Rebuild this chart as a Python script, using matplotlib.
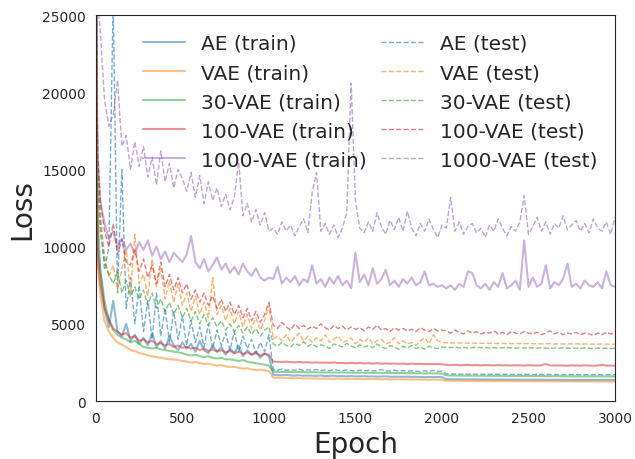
import numpy as np
import matplotlib
matplotlib.use("Agg")
import matplotlib.pyplot as plt
import seaborn as sns

epochs = [0, 5, 10] + list(range(25, 3001, 25))

labels = ["AE", "VAE", "30-VAE", "100-VAE", "1000-VAE"]
colors = ["C0", "C1", "C2", "C3", "C4"]

ae_train = [32000, 20000, 12000,
            8500, 6000, 4800, 6500, 4500, 4200, 5000, 3900, 4300, 3700,
            4100, 3600, 4400, 3500, 3900, 3400, 4200, 3600, 3300, 3800,
            3400, 3700, 3200, 3900, 3300, 3100, 3600, 3200, 3500, 3000,
            3400, 3100, 3600, 2900, 3300, 3000, 3200, 2800, 3100, 2900,
            1700, 1680, 1670, 1690, 1660, 1650, 1670, 1640, 1650, 1640,
            1630, 1650, 1620, 1630, 1640, 1610, 1620, 1600, 1620, 1600,
            1600, 1610, 1590, 1600, 1580, 1590, 1600, 1580, 1570, 1580,
            1570, 1580, 1560, 1570, 1560, 1550, 1560, 1550, 1560, 1550,
            1420, 1415, 1410, 1410, 1405, 1400, 1405, 1400, 1395, 1400,
            1395, 1390, 1395, 1390, 1390, 1385, 1390, 1385, 1385, 1380,
            1385, 1380, 1380, 1380, 1375, 1380, 1375, 1375, 1375, 1370,
            1375, 1370, 1370, 1370, 1370, 1365, 1370, 1365, 1365, 1365]

vae_train = [32000, 14000, 9000,
             7000, 5200, 4500, 4100, 3800, 3650, 3500, 3300, 3250, 3100,
             3050, 2950, 2900, 2850, 2800, 2750, 2700, 2700, 2650, 2600,
             2550, 2500, 2520, 2450, 2400, 2420, 2350, 2300, 2330, 2250,
             2200, 2220, 2150, 2100, 2120, 2050, 2000, 2030, 1980, 1950,
             1520, 1510, 1500, 1500, 1490, 1480, 1490, 1470, 1470, 1460,
             1460, 1450, 1460, 1450, 1440, 1450, 1440, 1430, 1440, 1430,
             1430, 1420, 1430, 1420, 1420, 1410, 1420, 1410, 1400, 1410,
             1400, 1400, 1390, 1400, 1390, 1390, 1380, 1390, 1380, 1380,
             1320, 1315, 1310, 1310, 1305, 1305, 1300, 1300, 1300, 1295,
             1295, 1295, 1290, 1290, 1290, 1290, 1285, 1285, 1285, 1285,
             1280, 1280, 1280, 1280, 1280, 1275, 1275, 1275, 1275, 1275,
             1270, 1270, 1270, 1270, 1270, 1265, 1265, 1265, 1265, 1265]

vae30_train = [32000, 16000, 10000,
               8500, 6500, 5200, 4600, 4300, 4100, 4000, 3800, 3900, 3700,
               3500, 3450, 3400, 3450, 3350, 3300, 3250, 3200, 3150, 3100,
               3000, 2950, 3000, 2900, 2850, 2900, 2800, 2750, 2800, 2700,
               2700, 2650, 2600, 2650, 2550, 2500, 2450, 2400, 2350, 2300,
               1900, 1890, 1890, 1880, 1880, 1870, 1880, 1870, 1860, 1870,
               1860, 1850, 1860, 1850, 1850, 1840, 1850, 1840, 1840, 1830,
               1840, 1830, 1830, 1820, 1830, 1820, 1820, 1810, 1820, 1810,
               1810, 1800, 1810, 1800, 1800, 1790, 1800, 1790, 1790, 1780,
               1660, 1655, 1650, 1650, 1645, 1645, 1640, 1640, 1640, 1635,
               1635, 1630, 1630, 1630, 1625, 1625, 1625, 1620, 1620, 1620,
               1615, 1615, 1615, 1610, 1610, 1610, 1610, 1605, 1605, 1605,
               1600, 1600, 1600, 1600, 1595, 1595, 1595, 1595, 1590, 1590]

vae100_train = [32000, 15000, 9500,
                7600, 6000, 5300, 4700, 4500, 4300, 4400, 4100, 4200, 3900,
                4000, 3800, 3900, 3700, 3750, 3600, 3700, 3500, 3600, 3450,
                3500, 3400, 3450, 3300, 3400, 3250, 3350, 3200, 3300, 3150,
                3250, 3100, 3200, 3050, 3150, 3000, 3100, 2950, 3050, 3000,
                2560, 2540, 2530, 2550, 2520, 2510, 2530, 2500, 2510, 2490,
                2500, 2480, 2490, 2470, 2500, 2460, 2470, 2450, 2470, 2450,
                2460, 2440, 2450, 2430, 2450, 2420, 2440, 2420, 2430, 2410,
                2420, 2400, 2420, 2400, 2410, 2390, 2400, 2390, 2400, 2380,
                2340, 2330, 2350, 2320, 2330, 2340, 2320, 2330, 2310, 2330,
                2320, 2310, 2330, 2310, 2320, 2300, 2320, 2310, 2300, 2320,
                2310, 2300, 2320, 2400, 2310, 2300, 2310, 2300, 2290, 2310,
                2300, 2290, 2310, 2300, 2290, 2300, 2350, 2290, 2300, 2280]

vae1000_train = [32000, 22000, 16000,
                 13000, 11500, 10500, 11000, 10000, 10500, 9800, 10200, 9500, 10300,
                 9800, 10400, 9400, 10000, 9200, 9700, 9000, 9600, 9300, 9000,
                 9500, 10700, 9000, 8600, 9200, 8400, 8800, 9300, 8500, 8900,
                 8300, 8700, 8200, 8900, 8400, 8100, 8600, 8000, 7800, 8000,
                 7900, 8700, 7600, 8000, 7700, 8100, 7500, 7900, 7700, 8800,
                 7600, 7900, 7400, 8000, 7600, 8100, 7500, 7800, 7300, 9600,
                 7700, 8200, 7500, 8600, 7600, 7900, 8500, 7500, 7800, 7400,
                 7900, 7600, 8000, 7500, 7700, 8400, 7500, 7600, 7400, 7500,
                 7300, 7500, 7200, 7600, 7400, 8400, 8300, 7500, 7300, 7600,
                 7200, 7700, 7400, 8300, 7300, 7500, 7800, 7200, 10400, 7400,
                 8000, 7400, 7600, 8800, 7300, 7700, 7500, 7900, 8900, 7400,
                 7600, 7300, 7800, 7500, 7400, 7700, 7300, 8400, 7500, 7400]

ae_test = [30000, 24000, 16000,
           12000, 8500, 10000, 26000, 7000, 15000, 6000, 8000, 5000, 7500,
           4500, 6500, 4000, 7000, 4200, 6000, 3800, 5800, 4000, 5500,
           3600, 5200, 3800, 4800, 3500, 5000, 3400, 4600, 3600, 4400,
           3300, 4500, 3200, 4200, 3400, 4000, 3100, 3800, 3200, 4300,
           2050, 2000, 2080, 1990, 2030, 2000, 2060, 1980, 2020, 1990,
           2040, 1980, 2010, 1970, 2030, 1990, 1960, 2020, 1980, 1950,
           2000, 1960, 1990, 1950, 1980, 2040, 1960, 1940, 1990, 1950,
           1970, 1930, 1960, 1940, 1920, 1960, 1930, 1980, 1920, 1940,
           1760, 1755, 1750, 1750, 1745, 1745, 1740, 1740, 1740, 1735,
           1735, 1735, 1730, 1730, 1730, 1730, 1725, 1725, 1725, 1725,
           1720, 1720, 1720, 1720, 1720, 1715, 1715, 1715, 1715, 1715,
           1710, 1710, 1710, 1710, 1710, 1710, 1705, 1705, 1705, 1705]

vae_test = [30000, 22000, 15000,
            12000, 9500, 8000, 8800, 7200, 8500, 9800, 7000, 10800, 7600,
            8200, 6800, 9200, 7400, 8600, 6600, 7800, 6400, 7600, 6200,
            7000, 5800, 6800, 5600, 6400, 5400, 8000, 5600, 6200, 5200,
            6000, 5000, 5800, 4800, 5600, 4700, 5400, 4600, 5200, 6200,
            4000, 4200, 3900, 4300, 3800, 4100, 4400, 3900, 4200, 3800,
            4100, 3900, 4300, 3800, 4000, 4200, 3800, 3900, 4100, 3700,
            4000, 3800, 4100, 3700, 3900, 4000, 3700, 3800, 4100, 3700,
            3900, 3700, 3800, 3600, 3900, 4100, 3700, 4300, 3900, 3800,
            3780, 3770, 3760, 3760, 3750, 3750, 3750, 3740, 3740, 3740,
            3740, 3730, 3730, 3730, 3730, 3720, 3720, 3720, 3720, 3720,
            3710, 3710, 3710, 3710, 3710, 3700, 3700, 3700, 3700, 3700,
            3700, 3700, 3690, 3690, 3690, 3690, 3690, 3690, 3680, 3680]

vae30_test = [30000, 20000, 14000,
              11000, 9000, 8200, 7600, 8400, 7000, 7800, 6800, 7400, 6600,
              7200, 6200, 7000, 6000, 6600, 5800, 6400, 5600, 6200, 5400,
              6000, 5200, 5800, 5000, 5600, 4900, 5400, 4800, 5200, 4600,
              5000, 4500, 4900, 4400, 4800, 4300, 4700, 4200, 4600, 4800,
              3700, 3550, 3800, 3600, 3500, 3750, 3600, 3850, 3550, 3700,
              3500, 3650, 3550, 3400, 3700, 3600, 3500, 3750, 3550, 3450,
              3650, 3500, 3600, 3450, 3700, 3500, 3400, 3600, 3500, 3350,
              3550, 3450, 3600, 3400, 3500, 3350, 3550, 3450, 3400, 3500,
              3480, 3460, 3490, 3450, 3470, 3440, 3460, 3480, 3450, 3470,
              3440, 3460, 3430, 3450, 3470, 3440, 3420, 3450, 3430, 3460,
              3440, 3420, 3450, 3430, 3410, 3440, 3420, 3450, 3430, 3410,
              3430, 3410, 3440, 3420, 3400, 3430, 3410, 3420, 3400, 3420]

vae100_test = [30000, 22000, 16000,
               13000, 11000, 10000, 11500, 9500, 10500, 9000, 8800, 9800, 8400,
               9200, 8000, 8800, 7600, 9000, 7400, 8200, 7200, 8000, 7000,
               7600, 6600, 7200, 6400, 7000, 6200, 6800, 6000, 6600, 5800,
               6400, 5600, 6200, 5400, 6000, 5200, 5800, 5100, 5600, 6400,
               4900, 4700, 5100, 4800, 4600, 5000, 4700, 4900, 4650, 4850,
               4700, 5000, 4750, 4600, 4900, 4700, 4850, 4600, 4800, 4650,
               4750, 4550, 4800, 4650, 4900, 4600, 4700, 4500, 4750, 4600,
               4700, 4550, 4650, 4500, 4750, 4600, 4500, 4700, 4550, 4600,
               4550, 4400, 4600, 4450, 4350, 4550, 4400, 4500, 4350, 4450,
               4400, 4550, 4350, 4450, 4300, 4500, 4400, 4350, 4500, 4400,
               4350, 4450, 4300, 4400, 4550, 4350, 4450, 4300, 4400, 4350,
               4450, 4300, 4400, 4350, 4250, 4400, 4300, 4450, 4350, 4400]

vae1000_test = [32000, 30000, 26000,
                24000, 19500, 17800, 18500, 20800, 16500, 17200, 15000, 16800, 15200,
                16500, 14500, 15800, 14000, 16200, 14200, 15400, 13800, 15000, 14400,
                13600, 14800, 13200, 14600, 12800, 14200, 13000, 13800, 12600, 13400,
                12400, 13200, 15500, 12000, 12800, 11600, 12400, 11400, 12200, 11000,
                11200, 10800, 11600, 11000, 11400, 10700, 11300, 11800, 10900, 13500,
                14800, 11000, 11500, 10800, 11400, 10600, 11200, 12200, 20600, 13000,
                11200, 10900, 11600, 11000, 12200, 11300, 10800, 11700, 11100, 11900,
                11000, 12300, 11200, 10700, 11500, 11000, 11800, 11100, 10600, 11400,
                11200, 13200, 11000, 11600, 10800, 11300, 11500, 10900, 11200, 10600,
                11400, 11000, 11800, 11200, 10700, 11300, 11000, 11600, 13300, 10800,
                11300, 11900, 11000, 11600, 10800, 11500, 11200, 12000, 11100, 11400,
                11700, 11000, 11500, 10900, 11800, 11200, 11000, 11600, 10800, 11900]

train = [ae_train, vae_train, vae30_train, vae100_train, vae1000_train]
test = [ae_test, vae_test, vae30_test, vae100_test, vae1000_test]

sns.set_style("white")

fig = plt.figure(figsize=(6.35, 4.6), dpi=100)
ax = fig.add_axes([0.151, 0.126, 0.8175, 0.839])

for name, c, y in zip(labels, colors, train):
    ax.plot(epochs, y, color=c, lw=1.5, alpha=0.5, label=f"{name} (train)")
for name, c, y in zip(labels, colors, test):
    ax.plot(epochs, y, color=c, lw=1.0, alpha=0.6, ls="--", label=f"{name} (test)")

ax.set_xlim(0, 3000)
ax.set_ylim(0, 25000)
ax.set_xticks(np.arange(0, 3001, 500))
ax.set_yticks(np.arange(0, 25001, 5000))
ax.tick_params(labelsize=10)
ax.set_xlabel("Epoch", fontsize=20)
ax.set_ylabel("Loss", fontsize=20)

ax.legend(ncol=2, loc="upper left", bbox_to_anchor=(0.056, 0.998), frameon=False,
          fontsize=14.5, labelspacing=0.5, handlelength=2.1, handletextpad=0.8,
          columnspacing=0.7)

fig.savefig("out.png", dpi=100)
